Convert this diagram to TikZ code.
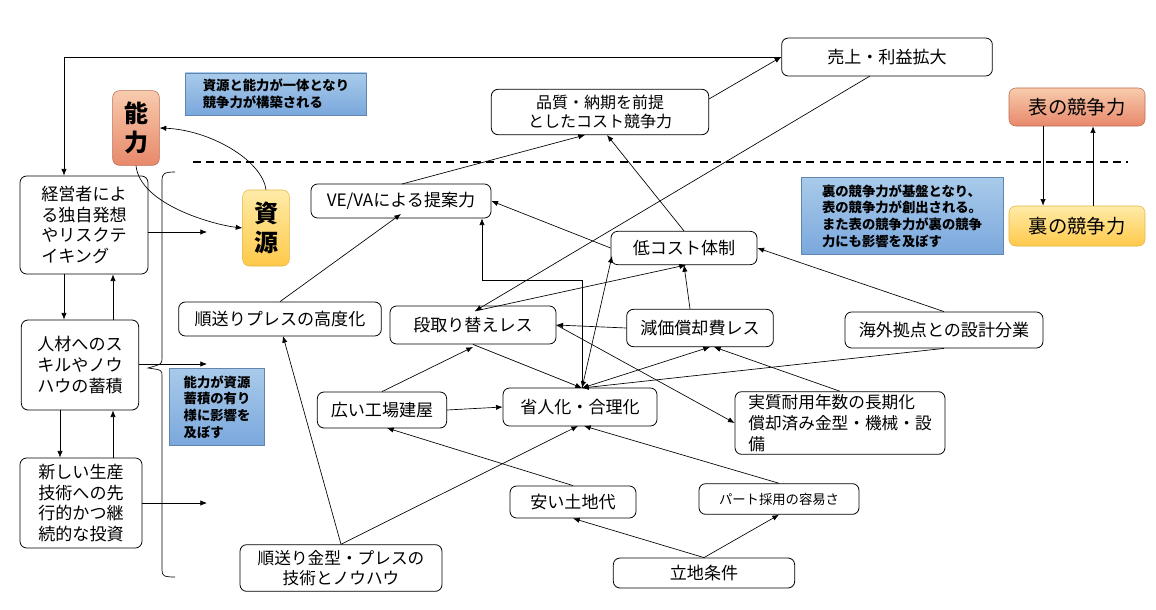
\documentclass[tikz,border=0pt]{standalone}
\usepackage{fontspec}
\setmainfont{Noto Sans CJK JP}
\usetikzlibrary{arrows.meta}
\definecolor{salA}{HTML}{F8CBAD}\definecolor{salB}{HTML}{E8886A}
\definecolor{yelA}{HTML}{FFEBA8}\definecolor{yelB}{HTML}{FFC94A}
\definecolor{bluA}{HTML}{A9CBEA}\definecolor{bluB}{HTML}{7AA7DC}
\begin{document}
\begin{tikzpicture}[x=0.75pt,y=-0.75pt,
  box/.style={draw,line width=0.6pt,rounded corners=5pt,align=center,font=\fontsize{12.8}{15.5}\selectfont,inner sep=1pt},
  sal/.style={draw=salB!80!black,rounded corners=5pt,top color=salA,bottom color=salB,align=center},
  yel/.style={draw=yelB!90!black,rounded corners=5pt,top color=yelA,bottom color=yelB,align=center},
  note/.style={draw=bluB!80!black,top color=bluA,bottom color=bluB,align=left,font=\bfseries\fontsize{10}{12.5}\selectfont,inner sep=2pt},
  ar/.style={-{Latex[length=5pt,width=4pt]},line width=0.5pt},
  ba/.style={{Latex[length=5pt,width=4pt]}-{Latex[length=5pt,width=4pt]},line width=0.5pt}]
\useasboundingbox (0,0) rectangle (1156,610);
\fill[white] (0,0) rectangle (1156,610);
% nodes
\node[box,minimum width=158pt,minimum height=28.5pt] (uri) at (887,57) {売上・利益拡大};
\node[box,minimum width=163pt,minimum height=34pt,font=\fontsize{12}{14.5}\selectfont] (hin) at (600,112) {品質・納期を前提\\ としたコスト競争力};
\node[sal,minimum width=35pt,minimum height=56pt,font=\bfseries\fontsize{18}{22}\selectfont] (nou) at (136,128) {能\\力};
\node[yel,minimum width=35pt,minimum height=57pt,font=\bfseries\fontsize{18}{22}\selectfont] (shi) at (266,228) {資\\源};
\node[note,minimum width=136pt,minimum height=31.5pt] (n1) at (276,94) {資源と能力が一体となり\\競争力が構築される};
\node[sal,minimum width=102pt,minimum height=28.5pt,font=\fontsize{14.5}{17}\selectfont] (omo) at (1077,107) {表の競争力};
\node[yel,minimum width=102pt,minimum height=30pt,font=\fontsize{14.5}{17}\selectfont] (ura) at (1077,226) {裏の競争力};
\node[note,minimum width=151.5pt,minimum height=58pt] (n2) at (902,216) {裏の競争力が基盤となり、\\表の競争力が創出される。\\また表の競争力が裏の競争\\力にも影響を及ぼす};
\node[box,minimum width=96pt,minimum height=73.5pt,align=left] (kei) at (84,225) {経営者によ\\る独自発想\\やリスクテ\\イキング};
\node[box,minimum width=88pt,minimum height=67.5pt,align=left] (jin) at (80,365) {人材へのス\\キルやノウ\\ハウの蓄積};
\node[box,minimum width=91.5pt,minimum height=67.5pt,align=left] (atr) at (81,503) {新しい生産\\技術への先\\行的かつ継\\続的な投資};
\node[note,minimum width=71pt,minimum height=58pt] (n3) at (217,407) {能力が資源\\蓄積の有り\\様に影響を\\及ぼす};
\node[box,minimum width=135pt,minimum height=25.5pt] (ve) at (401,201) {VE/VAによる提案力};
\node[box,minimum width=152pt,minimum height=25.5pt] (kou) at (280,319) {順送りプレスの高度化};
\node[box,minimum width=124.5pt,minimum height=28.5pt] (dan) at (473,325) {段取り替えレス};
\node[box,minimum width=109.5pt,minimum height=25pt] (tei) at (684,248) {低コスト体制};
\node[box,minimum width=110pt,minimum height=28pt] (gen) at (700,328) {減価償却費レス};
\node[box,minimum width=148.5pt,minimum height=27pt] (kai) at (944,330) {海外拠点との設計分業};
\node[box,minimum width=97pt,minimum height=27pt] (hir) at (382,410) {広い工場建屋};
\node[box,minimum width=115.5pt,minimum height=28.5pt] (sho) at (580,407) {省人化・合理化};
\node[box,minimum width=157.5pt,minimum height=47pt,align=left,font=\fontsize{12.5}{16}\selectfont] (jis) at (840,423) {実質耐用年数の長期化\\償却済み金型・機械・設\\備};
\node[box,minimum width=94.5pt,minimum height=24pt] (yas) at (573,502) {安い土地代};
\node[box,minimum width=120pt,minimum height=23pt,font=\fontsize{10}{12}\selectfont] (par) at (779,499) {パート採用の容易さ};
\node[box,minimum width=151.5pt,minimum height=35pt,font=\fontsize{12.5}{14.5}\selectfont] (kan) at (341,568) {順送り金型・プレスの\\技術とノウハウ};
\node[box,minimum width=136pt,minimum height=22.5pt] (rit) at (704,573) {立地条件};
\coordinate (e1) at (207,232);\coordinate (e2) at (207,364);\coordinate (e3) at (207,503);
% dashed
\draw[line width=1pt,dash pattern=on 6pt off 4pt] (193,162) -- (1128,162);
% brace
\draw[line width=0.5pt] (175,172) .. controls (164,172) and (162,174) .. (162,180) -- (162,358) .. controls (162,364) .. (148,368) .. controls (162,370) .. (162,376) -- (162,570) .. controls (162,576) and (164,577) .. (175,577);
% left column
\draw[ar] (uri.west) -- (64,57) -- (kei.north -| 64,0);
\draw[ar] (kei.south -| 64,0) -- (jin.north -| 64,0);
\draw[ar] (jin.north -| 113,0) -- (kei.south -| 113,0);
\draw[ar] (jin.south -| 60,0) -- (atr.north -| 60,0);
\draw[ar] (atr.north -| 113,0) -- (jin.south -| 113,0);
\draw[ar] (kei.east |- e1) -- (e1);
\draw[ar] (jin.east |- e2) -- (e2);
\draw[ar] (atr.east |- e3) -- (e3);
% ability/resource
\draw[ar] (shi.north) .. controls (262,160) and (210,130) .. (nou.east);
\draw[ar] (nou.south) .. controls (140,205) and (215,225) .. (shi.west);
% omote/ura
\draw[ar] (omo.south -| 1043,0) -- (ura.north -| 1043,0);
\draw[ar] (ura.north -| 1093,0) -- (omo.south -| 1093,0);
% main graph
\draw[ar] (hin.north east) ++(0,10) -- (uri.west);
\draw[ar] (402,184) -- (585,135);
\draw[ar] (tei.north) -- (607,135);
\draw[ar] (tei.west) -- (ve.east);
\draw[ar] (870,76) -- (475,311);
\draw[ar] (475,311) -- (686,265);
\draw[ar] (582,388) -- (582,280) -- (482,280) -- (ve.south -| 482,0);
\draw[ba] (582,388) -- (612,256);
\draw[ba] (582,388) -- (710,347);
\draw[ar] (gen.north) ++(-10,0) -- (tei.south);
\draw[ar] (gen.west) -- (dan.east);
\draw[ar] (kai.north) -- (tei.east);
\draw[ar] (kai.south) -- (582,388);
\draw[ar] (dan.south) -- (582,388);
\draw[ar] (dan.east) -- (jis.west);
\draw[ar] (jis.north) -- (714,347);
\draw[ar] (hir.east) -- (sho.west);
\draw[ar] (hir.north) -- (473,347);
\draw[ar] (kan.north) -- (283,336);
\draw[ar] (kan.north) -- (578,426);
\draw[ar] (kou.north) -- (401,214);
\draw[ar] (yas.north) -- (387,428);
\draw[ar] (par.north) -- (584,426);
\draw[ar] (rit.north) -- (yas.south);
\draw[ar] (rit.north) -- (par.south);
\end{tikzpicture}
\end{document}
